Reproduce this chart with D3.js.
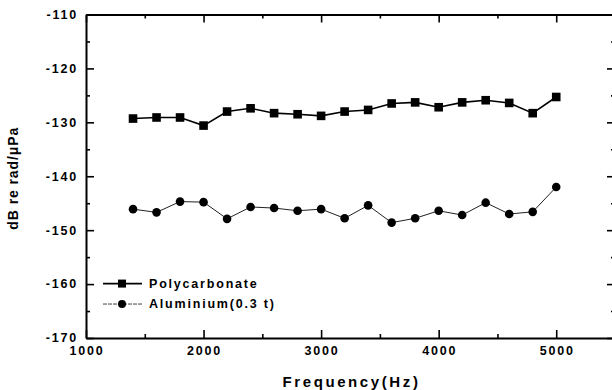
<!DOCTYPE html>
<html><head><meta charset="utf-8">
<script src="https://cdn.jsdelivr.net/npm/d3@7"></script>
<style>
body{margin:0;background:#fff;}
text{font-family:"Liberation Sans",Arial,sans-serif;font-weight:bold;fill:#000;}
</style></head>
<body><svg id="c" width="612" height="390"></svg>
<script>
const freqs = [1400,1600,1800,2000,2200,2400,2600,2800,3000,3200,3400,3600,3800,4000,4200,4400,4600,4800,5000];
const polycarbonate = [-129.3,-129.1,-129.1,-130.6,-128.0,-127.4,-128.3,-128.5,-128.8,-128.0,-127.7,-126.5,-126.3,-127.2,-126.3,-125.9,-126.4,-128.3,-125.3];
const aluminium = [-146.1,-146.7,-144.7,-144.8,-147.9,-145.7,-145.9,-146.4,-146.1,-147.8,-145.4,-148.6,-147.8,-146.4,-147.2,-144.9,-147.0,-146.6,-142.0];
const xTicks = [1000,2000,3000,4000,5000];
const yTicks = [-170,-160,-150,-140,-130,-120,-110];
const seriesNames = ["Polycarbonate","Aluminium(0.3 t)"];
const xTitle = "Frequency(Hz)";
const yTitle = "dB re rad/\u03bcPa";

const svg = d3.select("#c");
const L=86, R=615, T=14.5, B=338;
const x = d3.scaleLinear().domain([1000,5500]).range([L,R]);
const y = d3.scaleLinear().domain([-170,-110]).range([B,T]);

const xMinor = d3.range(1500,5500,1000);
const yMinor = d3.range(-165,-110,10);

function styleAxis(g){
  g.select(".domain").attr("stroke","#000").attr("stroke-width",2);
  g.selectAll(".tick line").attr("stroke","#000").attr("stroke-width",1.6);
}
function frameAxis(axisFn, pos, tr){
  svg.append("g").attr("transform",tr)
    .call(axisFn(pos.scale).tickValues(pos.major).tickSizeInner(-8).tickSizeOuter(0).tickFormat(""))
    .call(styleAxis);
  svg.append("g").attr("transform",tr)
    .call(axisFn(pos.scale).tickValues(pos.minor).tickSizeInner(-4).tickSizeOuter(0).tickFormat(""))
    .call(g=>g.select(".domain").remove()).call(styleAxis);
}
frameAxis(d3.axisBottom,{scale:x,major:xTicks,minor:xMinor},`translate(0,${B})`);
frameAxis(d3.axisTop,{scale:x,major:xTicks,minor:xMinor},`translate(0,${T})`);
frameAxis(d3.axisLeft,{scale:y,major:yTicks,minor:yMinor},`translate(${L},0)`);
frameAxis(d3.axisRight,{scale:y,major:yTicks,minor:yMinor},`translate(${R},0)`);

// tick labels
svg.append("g").selectAll("text").data(xTicks).join("text")
  .attr("x",d=>x(d)+1).attr("y",B+13).attr("dy","0.35em")
  .attr("text-anchor","middle").style("font-size","12.5px").style("letter-spacing","1.8px")
  .text(d=>d);
svg.append("g").selectAll("text").data(yTicks).join("text")
  .attr("x",L-8).attr("y",d=>y(d)).attr("dy","0.35em")
  .attr("text-anchor","end").style("font-size","12.5px").style("letter-spacing","1.8px")
  .text(d=>d);

// titles
svg.append("text").attr("x",(L+R)/2+1).attr("y",382).attr("dy","0.35em")
  .attr("text-anchor","middle").style("font-size","15px").style("letter-spacing","2.6px").text(xTitle);
svg.append("text").attr("transform",`translate(13,${(T+B)/2+2}) rotate(-90)`).attr("dy","0.35em")
  .attr("text-anchor","middle").style("font-size","14px").style("letter-spacing","0.9px").text(yTitle);

// series
const line = d3.line().x((d,i)=>x(freqs[i])).y(d=>y(d));
svg.append("path").datum(polycarbonate).attr("d",line).attr("fill","none").attr("stroke","#000").attr("stroke-width",1.6);
svg.append("path").datum(aluminium).attr("d",line).attr("fill","none").attr("stroke","#222").attr("stroke-width",1);
svg.append("g").selectAll("rect").data(polycarbonate).join("rect")
  .attr("x",(d,i)=>x(freqs[i])-4.3).attr("y",d=>y(d)-4.3).attr("width",8.6).attr("height",8.6).attr("fill","#000");
svg.append("g").selectAll("circle").data(aluminium).join("circle")
  .attr("cx",(d,i)=>x(freqs[i])).attr("cy",d=>y(d)).attr("r",4.3).attr("fill","#000");

// legend
const lg = svg.append("g");
const ly = [y(-160)-0.5, y(-163.7)];
lg.append("line").attr("x1",103).attr("x2",142).attr("y1",ly[0]).attr("y2",ly[0]).attr("stroke","#000").attr("stroke-width",1.6);
lg.append("rect").attr("x",122-4).attr("y",ly[0]-4).attr("width",8).attr("height",8).attr("fill","#000");
lg.append("line").attr("x1",103).attr("x2",142).attr("y1",ly[1]).attr("y2",ly[1]).attr("stroke","#444").attr("stroke-width",1).attr("stroke-dasharray","4,1");
lg.append("circle").attr("cx",122).attr("cy",ly[1]).attr("r",4).attr("fill","#000");
lg.selectAll("text.lt").data(seriesNames).join("text").attr("class","lt")
  .attr("x",149).attr("y",(d,i)=>ly[i]).attr("dy","0.35em")
  .style("font-size","12.5px").style("letter-spacing","1.8px").text(d=>d);
</script></body></html>
